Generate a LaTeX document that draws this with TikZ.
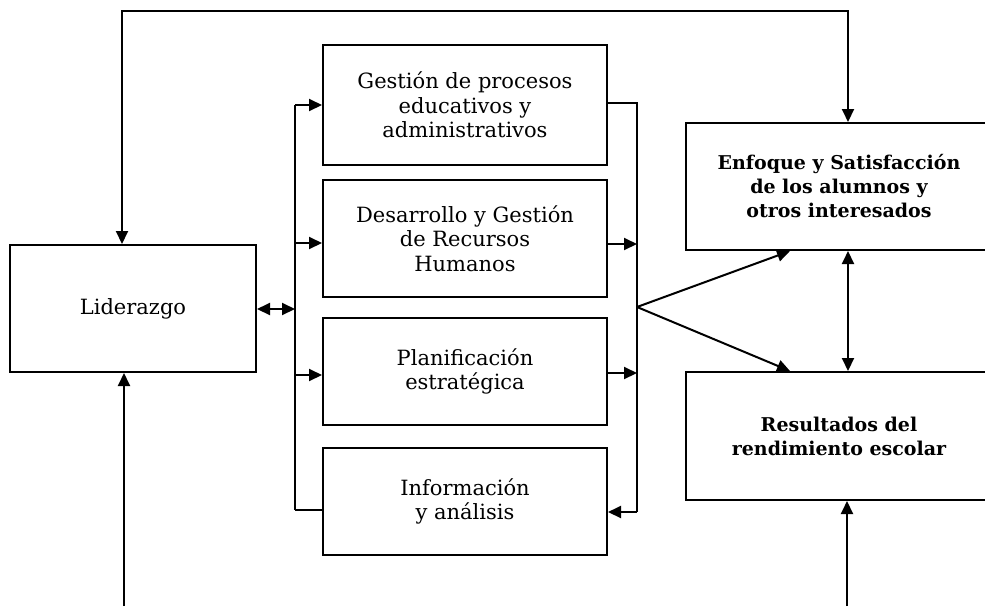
\documentclass[tikz,border=0pt]{standalone}
\usepackage{fontspec}
\setmainfont{DejaVu Serif}
\usetikzlibrary{arrows.meta}
\tikzset{
  box/.style={draw, line width=2pt, align=center, inner sep=2pt,
    font=\fontsize{21}{24.5}\selectfont},
  bbox/.style={box, font=\fontsize{19}{24}\selectfont\bfseries},
  wire/.style={line width=2pt},
  arr/.style={wire, -{Triangle[length=13pt,width=12pt]}},
  dblarr/.style={wire, {Triangle[length=13pt,width=12pt]}-{Triangle[length=13pt,width=12pt]}},
}
\begin{document}
\begin{tikzpicture}[x=1pt,y=-1pt]
\useasboundingbox (0,0) rectangle (985,606);

% boxes
\node[box, minimum width=246pt, minimum height=127pt] (lid) at (133,308.5) {Liderazgo};
\node[box, minimum width=284pt, minimum height=120pt] (b1) at (465,105)
  {Gestión de procesos\\educativos y\\administrativos};
\node[box, minimum width=284pt, minimum height=117pt] (b2) at (465,238.5)
  {Desarrollo y Gestión\\de Recursos\\Humanos};
\node[box, minimum width=284pt, minimum height=107pt] (b3) at (465,371.5)
  {Planificación\\estratégica};
\node[box, minimum width=284pt, minimum height=107pt] (b4) at (465,501.5)
  {Información\\y análisis};
\node[bbox, minimum width=306pt, minimum height=127pt] (enf) at (839,186.5)
  {Enfoque y Satisfacción\\de los alumnos y\\otros interesados};
\node[bbox, minimum width=306pt, minimum height=128pt] (res) at (839,436)
  {Resultados del\\rendimiento escolar};

% left distribution bus
\coordinate (l1) at (295,105);
\coordinate (l2) at (295,243);
\coordinate (lm) at (295,309);
\coordinate (l3) at (295,375);
\coordinate (l4) at (295,510);
\draw[wire] (l1) -- (l4);
\draw[arr] (l1) -- (l1 -| b1.west);
\draw[arr] (l2) -- (l2 -| b2.west);
\draw[arr] (l3) -- (l3 -| b3.west);
\draw[wire] (l4 -| b4.west) -- (l4);
\draw[dblarr] (lid.east |- lm) -- (lm);

% right collecting bus
\coordinate (r1) at (637,103);
\coordinate (r2) at (637,244);
\coordinate (rm) at (637,307);
\coordinate (r3) at (637,373);
\coordinate (r4) at (637,512);
\draw[wire] (r1 -| b1.east) -- (r1) -- (r4);
\draw[arr] (r4) -- (r4 -| b4.east);
\draw[arr] (r2 -| b2.east) -- (r2);
\draw[arr] (r3 -| b3.east) -- (r3);
\coordinate (ea) at (790,0);
\draw[arr] (rm) -- (ea |- enf.south);
\draw[arr] (rm) -- (ea |- res.north);

% feedback loop over the top
\coordinate (tl) at (122,11);
\coordinate (tr) at (848,11);
\draw[dblarr] (tl |- lid.north) -- (tl) -- (tr) -- (tr |- enf.north);

% link between the two result boxes
\coordinate (mv) at (848,0);
\draw[dblarr] (mv |- enf.south) -- (mv |- res.north);

% inputs from below
\coordinate (bl) at (124,606);
\coordinate (br) at (847,606);
\draw[arr] (bl) -- (bl |- lid.south);
\draw[arr] (br) -- (br |- res.south);
\end{tikzpicture}
\end{document}
